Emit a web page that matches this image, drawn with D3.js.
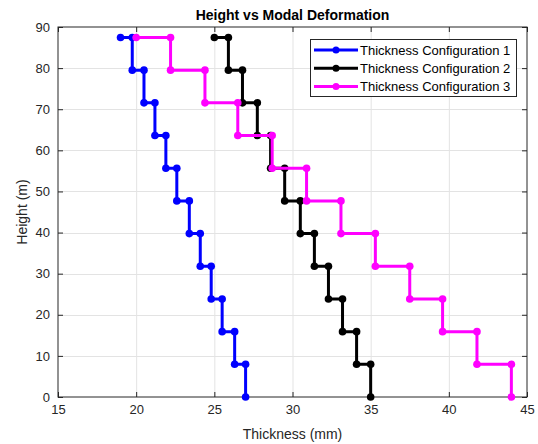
<!DOCTYPE html>
<html>
<head>
<meta charset="utf-8">
<script src="https://cdn.jsdelivr.net/npm/d3@7"></script>
<style>
  html, body { margin: 0; padding: 0; background: #fff; }
  svg { display: block; font-family: "Liberation Sans", Arial, Helvetica, sans-serif; }
</style>
</head>
<body>
<svg id="chart" width="538" height="444"></svg>
<script>
// ---- data ----
const levels = [0, 7.95, 15.9, 23.85, 31.8, 39.75, 47.7, 55.65, 63.6, 71.55, 79.5, 87.45]; // height levels (m)
// thickness of each segment from bottom to top, last value = end of top step (mm)
const config1 = [27.0, 26.3, 25.5, 24.8, 24.1, 23.4, 22.6, 21.9, 21.2, 20.5, 19.75, 19.0];
const config2 = [35.0, 34.1, 33.2, 32.3, 31.4, 30.5, 29.5, 28.6, 27.75, 26.8, 25.9, 25.0];
const config3 = [44.0, 41.8, 39.6, 37.5, 35.3, 33.1, 30.9, 28.7, 26.5, 24.4, 22.2, 20.0];
const seriesNames = ["Thickness Configuration 1", "Thickness Configuration 2", "Thickness Configuration 3"];
const seriesColors = ["#0000ff", "#000000", "#ff00ff"];
const xTicks = [15, 20, 25, 30, 35, 40, 45];
const yTicks = [0, 10, 20, 30, 40, 50, 60, 70, 80, 90];
const titleText = "Height vs Modal Deformation";
const xLabel = "Thickness (mm)";
const yLabel = "Height (m)";

// build stair points
function stairs(xs) {
  const pts = [];
  for (let i = 0; i < levels.length - 1; i++) {
    pts.push([xs[i], levels[i]]);
    pts.push([xs[i], levels[i + 1]]);
  }
  pts.push([xs[xs.length - 1], levels[levels.length - 1]]);
  return pts;
}
const allSeries = [config1, config2, config3].map(stairs);

// ---- layout ----
const svg = d3.select("#chart");
const L = 58, R = 527, T = 27, B = 397;
const x = d3.scaleLinear().domain([15, 45]).range([L, R]);
const y = d3.scaleLinear().domain([0, 90]).range([B, T]);
const axisColor = "#262626";
const gridColor = "#e3e3e3";

// grid
svg.append("g").selectAll("line").data(xTicks.slice(1, -1)).join("line")
  .attr("x1", d => x(d) + 0.5).attr("x2", d => x(d) + 0.5)
  .attr("y1", T).attr("y2", B).attr("stroke", gridColor).attr("stroke-width", 1);
svg.append("g").selectAll("line").data(yTicks.slice(1, -1)).join("line")
  .attr("y1", d => Math.round(y(d)) + 0.5).attr("y2", d => Math.round(y(d)) + 0.5)
  .attr("x1", L).attr("x2", R).attr("stroke", gridColor).attr("stroke-width", 1);

// axes (ticks inside)
const tickLen = 5;
const xAxisB = d3.axisBottom(x).tickValues(xTicks).tickSize(-tickLen).tickPadding(8);
const xAxisT = d3.axisTop(x).tickValues(xTicks).tickSize(-tickLen).tickFormat("");
const yAxisL = d3.axisLeft(y).tickValues(yTicks).tickSize(-tickLen).tickPadding(8);
const yAxisR = d3.axisRight(y).tickValues(yTicks).tickSize(-tickLen).tickFormat("");

function style(g) {
  g.selectAll("path").attr("stroke", axisColor).attr("stroke-width", 1);
  g.selectAll("line").attr("stroke", axisColor);
  g.selectAll("text").attr("fill", axisColor).style("font-size", "13px")
    .style("font-family", "'Liberation Sans', Arial, sans-serif");
}
svg.append("g").attr("transform", `translate(0,${B})`).call(xAxisB).call(style);
svg.append("g").attr("transform", `translate(0,${T})`).call(xAxisT).call(style);
svg.append("g").attr("transform", `translate(${L},0)`).call(yAxisL).call(style);
svg.append("g").attr("transform", `translate(${R},0)`).call(yAxisR).call(style);
svg.selectAll(".domain").remove();
svg.append("rect").attr("x", L).attr("y", T).attr("width", R - L).attr("height", B - T)
  .attr("fill", "none").attr("stroke", axisColor).attr("stroke-width", 1);

// series
const line = d3.line().x(d => x(d[0])).y(d => y(d[1]));
allSeries.forEach((pts, i) => {
  const g = svg.append("g");
  g.append("path").datum(pts).attr("d", line)
    .attr("fill", "none").attr("stroke", seriesColors[i]).attr("stroke-width", 3)
    .attr("stroke-linejoin", "round");
  g.selectAll("circle").data(pts).join("circle")
    .attr("cx", d => x(d[0])).attr("cy", d => y(d[1])).attr("r", 3.8)
    .attr("fill", seriesColors[i]);
});

// title & labels
svg.append("text").attr("x", (L + R) / 2).attr("y", 19.5).attr("text-anchor", "middle")
  .style("font-size", "14px").style("font-weight", "bold").attr("fill", "#000").text(titleText);
svg.append("text").attr("x", (L + R) / 2).attr("y", 439).attr("text-anchor", "middle")
  .style("font-size", "14px").attr("fill", axisColor).text(xLabel);
svg.append("text").attr("transform", `translate(27,${(T + B) / 2}) rotate(-90)`).attr("text-anchor", "middle")
  .style("font-size", "14px").attr("fill", axisColor).text(yLabel);

// legend
const lg = svg.append("g");
const lx = 310, ly = 39, lw = 206, lh = 57;
lg.append("rect").attr("x", lx + 0.5).attr("y", ly + 0.5).attr("width", lw).attr("height", lh)
  .attr("fill", "#fff").attr("stroke", axisColor).attr("stroke-width", 1);
seriesNames.forEach((name, i) => {
  const yy = ly + 11 + i * 18.3;
  lg.append("line").attr("x1", lx + 4).attr("x2", lx + 48).attr("y1", yy).attr("y2", yy)
    .attr("stroke", seriesColors[i]).attr("stroke-width", 3);
  lg.append("circle").attr("cx", lx + 26).attr("cy", yy).attr("r", 3.5).attr("fill", seriesColors[i]);
  lg.append("text").attr("x", lx + 50).attr("y", yy + 4.5).style("font-size", "13px")
    .attr("fill", "#000").text(name);
});
</script>
</body>
</html>
